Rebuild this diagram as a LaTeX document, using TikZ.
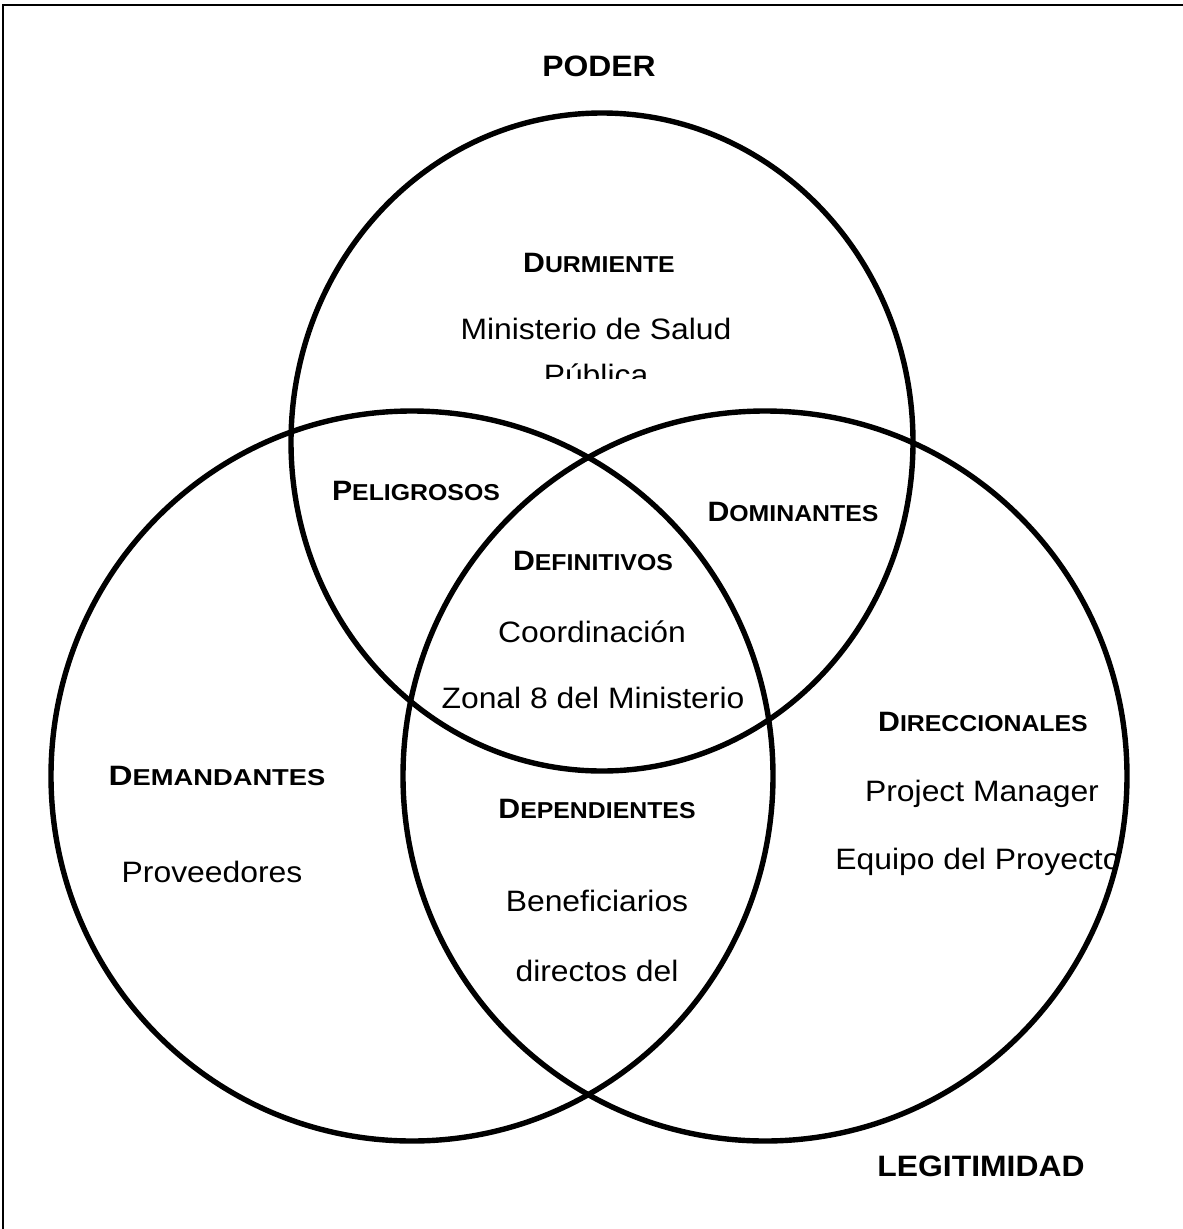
\documentclass[tikz,border=0pt]{standalone}
\usepackage{fontspec}
\setmainfont[FakeStretch=1.08]{Liberation Sans}
\newcommand{\lbl}[2]{\textbf{{\fontsize{28}{30}\selectfont #1}{\fontsize{23}{25}\selectfont #2}}}
\begin{document}
\begin{tikzpicture}[x=1pt,y=-1pt,
  circ/.style={line width=5.4pt},
  body/.style={anchor=base,inner sep=0pt,font=\fontsize{29.5}{31}\selectfont},
  head/.style={anchor=base,inner sep=0pt,font=\fontsize{29.5}{31}\selectfont\bfseries},
  lab/.style={anchor=base,inner sep=0pt}]
\useasboundingbox (0,0) rectangle (1183,1229);
\draw[line width=2pt] (3,1229) -- (3,5) -- (1183,5);
% outer labels
\node[head] (poder) at (599,76) {PODER};
\node[head] (legit) at (981,1176) {LEGITIMIDAD};
% top circle
\node[lab] (durm) at (599,272) {\lbl{D}{URMIENTE}};
\node[body] (min1) at (596,339) {Ministerio de Salud};
\begin{scope}
  \clip (400,345) rectangle (800,378);
  \node[body] (min2) at (596,385) {Pública};
\end{scope}
% overlaps
\node[lab] (pelig) at (416,500) {\lbl{P}{ELIGROSOS}};
\node[lab] (domin) at (793,521) {\lbl{D}{OMINANTES}};
\node[lab] (defin) at (593,570) {\lbl{D}{EFINITIVOS}};
\node[body] (coord) at (592,642) {Coordinación};
\node[body] (zonal) at (593,708) {Zonal 8 del Ministerio};
% right circle
\node[lab] (direc) at (983,731) {\lbl{D}{IRECCIONALES}};
\node[body] (pm) at (982,801) {Project Manager};
\node[body] (equipo) at (978,869) {Equipo del Proyecto};
% left circle
\node[lab] (deman) at (217,785) {\scalebox{1.1}[1]{\lbl{D}{EMANDANTES}}};
\node[body] (prov) at (212,882) {Proveedores};
% bottom overlap
\node[lab] (depen) at (597,818) {\lbl{D}{EPENDIENTES}};
\node[body] (benef) at (597,911) {Beneficiarios};
\node[body] (direc2) at (597,981) {directos del};
% circles
\draw[circ] (602,442) ellipse [x radius=311pt, y radius=329pt];
\draw[circ] (412,776) ellipse [x radius=361pt, y radius=365pt];
\draw[circ] (765,776) ellipse [x radius=362pt, y radius=365pt];
\end{tikzpicture}
\end{document}
